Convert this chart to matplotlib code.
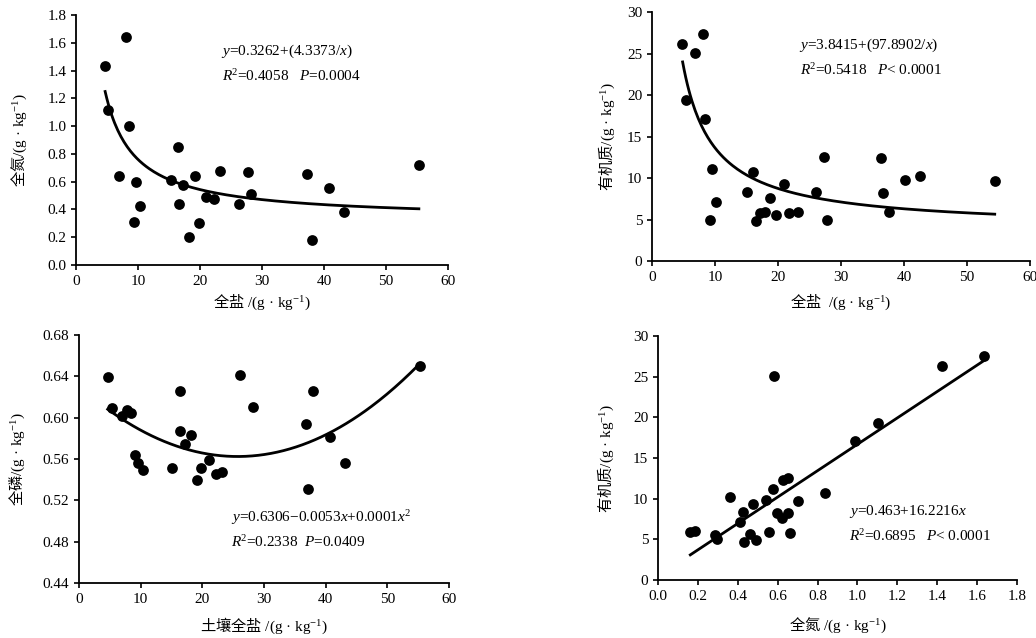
import numpy as np
import matplotlib
matplotlib.use("Agg")
import matplotlib.pyplot as plt

plt.rcParams['font.family'] = ['Liberation Serif', 'Noto Sans CJK SC', 'DejaVu Serif']
plt.rcParams['mathtext.fontset'] = 'custom'
plt.rcParams['mathtext.rm'] = 'Liberation Serif'
plt.rcParams['mathtext.it'] = 'Liberation Serif:italic'
plt.rcParams['mathtext.sf'] = 'Noto Sans CJK SC'
plt.rcParams['axes.unicode_minus'] = False

# ---- Panel 1: total salt vs total N ----
salt_n = [4.7, 8.0, 5.1, 8.5, 7.0, 9.6, 10.3, 9.3, 16.4, 15.3, 17.3, 16.6, 19.2, 19.8,
          18.2, 21.0, 22.3, 23.3, 26.3, 27.8, 28.3, 37.2, 38.1, 40.8, 43.2, 55.3]
tn = [1.435, 1.644, 1.116, 1.0, 0.643, 0.595, 0.422, 0.307, 0.852, 0.612, 0.574, 0.442,
      0.643, 0.30, 0.199, 0.487, 0.475, 0.674, 0.442, 0.667, 0.509, 0.655, 0.18, 0.552,
      0.379, 0.718]
fit1 = (0.3262, 4.3373)

# ---- Panel 2: total salt vs organic matter ----
salt_om = [4.77, 8.1, 6.9, 5.35, 8.4, 9.6, 10.1, 9.2, 16.05, 15.15, 16.5, 17.2, 18.0, 18.8,
           19.65, 20.9, 21.8, 23.1, 26.0, 27.3, 27.8, 36.4, 36.7, 37.55, 40.2, 42.6, 54.4]
om = [26.2, 27.36, 25.07, 19.45, 17.09, 11.07, 7.14, 4.97, 10.67, 8.3, 4.81, 5.82, 5.94,
      7.58, 5.58, 9.27, 5.74, 5.86, 8.26, 12.5, 4.97, 12.4, 8.18, 5.86, 9.75, 10.23, 9.63]
fit2 = (3.8415, 97.8902)

# ---- Panel 3: soil total salt vs total P ----
salt_p = [4.65, 5.35, 7.0, 7.8, 8.5, 9.1, 9.6, 10.3, 15.1, 16.4, 16.3, 18.2, 17.2, 19.1,
          19.8, 21.1, 22.2, 23.2, 26.05, 28.2, 36.8, 37.2, 37.9, 40.7, 43.2, 55.3]
tp = [0.6397, 0.6091, 0.6017, 0.6075, 0.6049, 0.5637, 0.556, 0.5495, 0.5511, 0.6262,
      0.5875, 0.5837, 0.5743, 0.5392, 0.5511, 0.5592, 0.5453, 0.5473, 0.6414, 0.610,
      0.594, 0.5308, 0.6262, 0.5817, 0.556, 0.6504]
fit3 = (0.6306, -0.0053, 0.000103)

# ---- Panel 4: total N vs organic matter ----
tn4 = [0.158, 0.187, 0.287, 0.297, 0.359, 0.409, 0.427, 0.429, 0.459, 0.474, 0.49, 0.542,
       0.557, 0.579, 0.597, 0.624, 0.629, 0.651, 0.651, 0.661, 0.584, 0.701, 0.839, 0.988,
       1.104, 1.426, 1.635]
om4 = [5.85, 6.02, 5.53, 5.08, 10.15, 7.16, 8.31, 4.71, 5.69, 9.29, 4.91, 9.82, 5.89,
       11.13, 8.27, 7.57, 12.28, 12.48, 8.19, 5.81, 25.13, 9.66, 10.72, 17.11, 19.32,
       26.32, 27.5]
fit4 = (0.463, 16.2216)


def ulabel(cn, sep=""):
    return r"$\mathsf{" + cn + "}$" + sep + "/(g \u00b7 kg" + r"$^{\mathrm{-1}}$)"


fig = plt.figure(figsize=(10.36, 6.38), dpi=100)
pos = [
    [76/1036, 1-265/638, 372/1036, 250/638],
    [652/1036, 1-261/638, 378/1036, 249/638],
    [79/1036, 1-583/638, 370/1036, 248/638],
    [658/1036, 1-580/638, 359/1036, 244/638],
]
axs = [fig.add_axes(p) for p in pos]

FS = 11
ms = 60

def style(ax):
    for s in ['top', 'right']:
        ax.spines[s].set_visible(False)
    for s in ['left', 'bottom']:
        ax.spines[s].set_linewidth(1.3)
    ax.tick_params(direction='out', length=3.5, width=1.2, labelsize=FS, pad=3.5)

# Panel 1
ax = axs[0]
ax.scatter(salt_n, tn, s=ms, c='black', zorder=3, linewidths=0)
xx = np.linspace(min(salt_n), max(salt_n), 200)
ax.plot(xx, fit1[0] + fit1[1]/xx, color='black', lw=2)
ax.set_xlim(0, 60); ax.set_ylim(0, 1.8)
ax.set_xticks(np.arange(0, 61, 10))
ax.set_yticks(np.arange(0, 1.81, 0.2))
ax.yaxis.set_major_formatter(matplotlib.ticker.FormatStrFormatter('%.1f'))
ax.set_xlabel(ulabel("全盐", " "), fontsize=FS, labelpad=3)
ax.set_ylabel(ulabel("全氮"), fontsize=FS, labelpad=13)
ax.text(23.4, 1.536, r"$y$=0.3262+(4.3373/$x$)", fontsize=FS, va='center', ha='left')
ax.text(23.5, 1.36, r"$R$$^2$=0.4058   $P$=0.0004", fontsize=FS, va='center', ha='left')
style(ax)

# Panel 2
ax = axs[1]
ax.scatter(salt_om, om, s=ms, c='black', zorder=3, linewidths=0)
xx = np.linspace(4.86, max(salt_om), 200)
ax.plot(xx, fit2[0] + fit2[1]/xx, color='black', lw=2)
ax.set_xlim(0, 60); ax.set_ylim(0, 30)
ax.set_xticks(np.arange(0, 61, 10))
ax.set_yticks(np.arange(0, 31, 5))
ax.set_xlabel(ulabel("全盐", "  "), fontsize=FS, labelpad=6)
ax.set_ylabel(ulabel("有机质"), fontsize=FS, labelpad=7)
ax.text(23.3, 26.0, r"$y$=3.8415+(97.8902/$x$)", fontsize=FS, va='center', ha='left')
ax.text(23.5, 23.0, r"$R$$^2$=0.5418   $P$< 0.0001", fontsize=FS, va='center', ha='left')
style(ax)

# Panel 3
ax = axs[2]
ax.scatter(salt_p, tp, s=ms, c='black', zorder=3, linewidths=0)
xx = np.linspace(min(salt_p), max(salt_p), 200)
ax.plot(xx, fit3[0] + fit3[1]*xx + fit3[2]*xx**2, color='black', lw=2)
ax.set_xlim(0, 60); ax.set_ylim(0.44, 0.68)
ax.set_xticks(np.arange(0, 61, 10))
ax.set_yticks(np.arange(0.44, 0.681, 0.04))
ax.yaxis.set_major_formatter(matplotlib.ticker.FormatStrFormatter('%.2f'))
ax.set_xlabel(ulabel("土壤全盐", " "), fontsize=FS, labelpad=7)
ax.set_ylabel(ulabel("全磷"), fontsize=FS, labelpad=11)
ax.text(24.6, 0.5038, "$y$=0.6306\u22120.0053$x$+0.0001$x$$^2$", fontsize=FS, va='center', ha='left')
ax.text(24.6, 0.4793, r"$R$$^2$=0.2338  $P$=0.0409", fontsize=FS, va='center', ha='left')
style(ax)

# Panel 4
ax = axs[3]
ax.scatter(tn4, om4, s=ms, c='black', zorder=3, linewidths=0)
xx = np.linspace(0.162, max(tn4), 200)
ax.plot(xx, fit4[0] + fit4[1]*xx, color='black', lw=2)
ax.set_xlim(0, 1.8); ax.set_ylim(0, 30)
ax.set_xticks(np.arange(0, 1.81, 0.2))
ax.xaxis.set_major_formatter(matplotlib.ticker.FormatStrFormatter('%.1f'))
ax.set_yticks(np.arange(0, 31, 5))
ax.set_xlabel(ulabel("全氮", " "), fontsize=FS, labelpad=9)
ax.set_ylabel(ulabel("有机质"), fontsize=FS, labelpad=12)
ax.text(0.956, 8.47, r"$y$=0.463+16.2216$x$", fontsize=FS, va='center', ha='left')
ax.text(0.956, 5.4, r"$R$$^2$=0.6895   $P$< 0.0001", fontsize=FS, va='center', ha='left')
style(ax)

fig.savefig("out.png", dpi=100, facecolor='white')
